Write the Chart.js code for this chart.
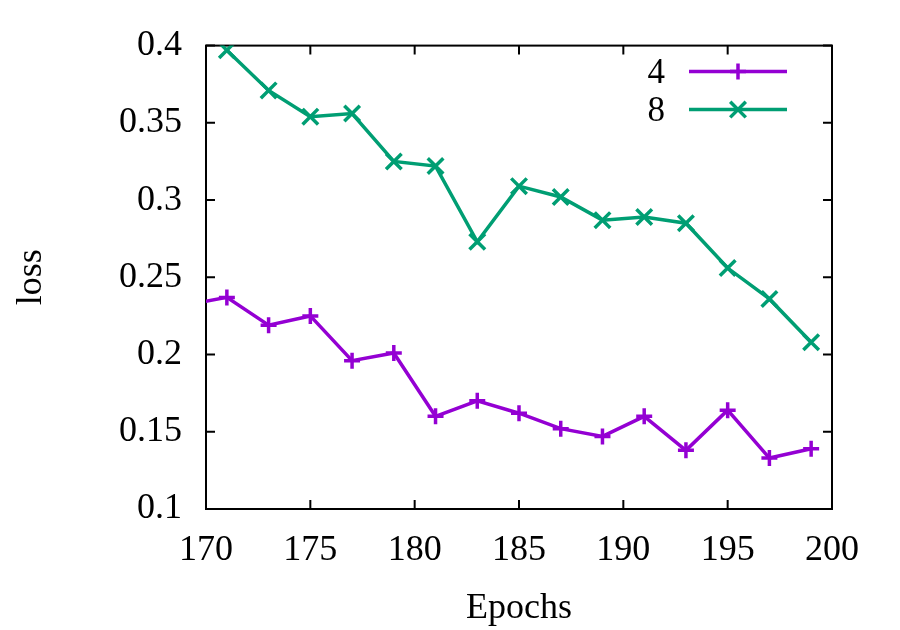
<!DOCTYPE html>
<html>
<head>
<meta charset="utf-8">
<script src="https://cdn.jsdelivr.net/npm/chart.js@4.4.0/dist/chart.umd.min.js"></script>
<style>
  html, body { margin: 0; padding: 0; background: #fff; }
</style>
</head>
<body>
<canvas id="lossChart" width="900" height="630"></canvas>
<script>
// values (the 169 point only shows as the clipped segment at the left edge)
const epochs = [169, 171, 173, 175, 177, 179, 181, 183, 185, 187, 189, 191, 193, 195, 197, 199];
const loss4 = [0.232, 0.237, 0.219, 0.225, 0.196, 0.201, 0.160, 0.170, 0.162, 0.152, 0.147, 0.160, 0.138, 0.164, 0.133, 0.139];
const loss8 = [null, 0.397, 0.371, 0.354, 0.356, 0.325, 0.322, 0.273, 0.309, 0.302, 0.287, 0.289, 0.285, 0.256, 0.236, 0.208];
const seriesLabels = ["4", "8"];
const xRange = [170, 200];
const yRange = [0.1, 0.4];

const FONT = "'Liberation Serif', 'DejaVu Serif', serif";
Chart.defaults.font.family = FONT;
Chart.defaults.font.size = 36;
Chart.defaults.color = "#000";

const toPoints = (vals) => epochs.map((e, i) => ({ x: e, y: vals[i] }));

// gnuplot style box with inward ticks on all four sides
const framePlugin = {
  id: "frame",
  beforeDatasetsDraw(chart) {
    const { ctx, chartArea: a, scales } = chart;
    ctx.save();
    ctx.strokeStyle = "#000";
    ctx.lineWidth = 2;
    ctx.beginPath();
    scales.x.ticks.forEach((t) => {
      const px = scales.x.getPixelForValue(t.value);
      ctx.moveTo(px, a.bottom);
      ctx.lineTo(px, a.bottom - 9);
      ctx.moveTo(px, a.top);
      ctx.lineTo(px, a.top + 9);
    });
    scales.y.ticks.forEach((t) => {
      const py = scales.y.getPixelForValue(t.value);
      ctx.moveTo(a.left, py);
      ctx.lineTo(a.left + 9, py);
      ctx.moveTo(a.right, py);
      ctx.lineTo(a.right - 9, py);
    });
    ctx.stroke();
    ctx.strokeRect(a.left, a.top, a.right - a.left, a.bottom - a.top);
    ctx.restore();
  },
};

// legend: label on the left, line sample with marker on the right
const legendPlugin = {
  id: "gnuLegend",
  afterDraw(chart) {
    const { ctx, chartArea: a } = chart;
    const x1 = a.right - 45;
    const x0 = x1 - 98;
    ctx.save();
    ctx.font = "35px " + FONT;
    ctx.textAlign = "right";
    ctx.textBaseline = "middle";
    chart.data.datasets.forEach((ds, i) => {
      const y = a.top + 26 + i * 38;
      ctx.fillStyle = "#000";
      ctx.fillText(ds.label, x0 - 24, y + 2);
      ctx.strokeStyle = ds.borderColor;
      ctx.lineWidth = ds.borderWidth;
      ctx.beginPath();
      ctx.moveTo(x0, y);
      ctx.lineTo(x1, y);
      ctx.stroke();
      Chart.helpers.drawPoint(ctx, {
        pointStyle: ds.pointStyle,
        radius: ds.pointRadius,
        rotation: 0,
        borderWidth: ds.pointBorderWidth,
      }, (x0 + x1) / 2, y);
    });
    ctx.restore();
  },
};

new Chart(document.getElementById("lossChart"), {
  type: "line",
  data: {
    datasets: [
      {
        label: seriesLabels[0],
        data: toPoints(loss4),
        borderColor: "#9400d3",
        backgroundColor: "#9400d3",
        borderWidth: 3.5,
        pointStyle: "cross",
        pointRadius: 8,
        pointBorderWidth: 3.5,
        tension: 0,
      },
      {
        label: seriesLabels[1],
        data: toPoints(loss8),
        borderColor: "#009e73",
        backgroundColor: "#009e73",
        borderWidth: 3.5,
        pointStyle: "crossRot",
        pointRadius: 11,
        pointBorderWidth: 3.5,
        tension: 0,
      },
    ],
  },
  options: {
    responsive: false,
    animation: false,
    events: [],
    layout: { padding: { top: 45, right: 68, left: 0, bottom: 0 } },
    plugins: {
      legend: { display: false },
      tooltip: { enabled: false },
    },
    scales: {
      x: {
        type: "linear",
        min: xRange[0],
        max: xRange[1],
        ticks: { stepSize: 5, padding: 20 },
        grid: { display: false, drawTicks: false },
        border: { display: false },
        title: { display: true, text: "Epochs", padding: { top: 3, bottom: 0 } },
        afterFit: (s) => { s.height = 121; },
      },
      y: {
        min: yRange[0],
        max: yRange[1],
        ticks: {
          stepSize: 0.05,
          padding: 24,
          callback: (v) => String(Number(v.toFixed(2))),
        },
        grid: { display: false, drawTicks: false },
        border: { display: false },
        title: { display: true, text: "loss", padding: { top: 10, bottom: 0 } },
        afterFit: (s) => { s.width = 206; },
      },
    },
  },
  plugins: [framePlugin, legendPlugin],
});
</script>
</body>
</html>
